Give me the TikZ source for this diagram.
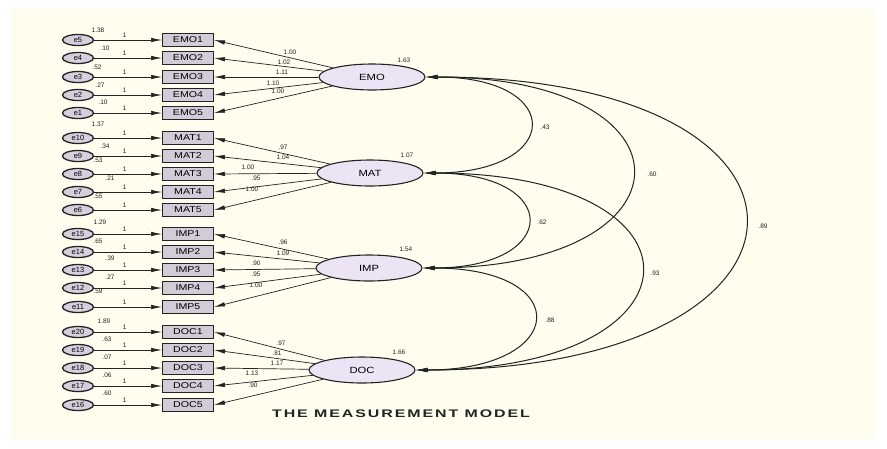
\documentclass[tikz,border=0pt]{standalone}
\usepackage{fontspec}
\setmainfont{Liberation Sans}
\usetikzlibrary{shapes.geometric,arrows.meta,calc}
\definecolor{cream}{RGB}{254,253,238}
\definecolor{lav}{RGB}{236,228,244}
\definecolor{boxfill}{RGB}{210,204,216}
\definecolor{errfill}{RGB}{214,208,222}
\definecolor{ink}{RGB}{35,35,35}
\newcommand{\wide}[1]{\scalebox{1.25}[1]{#1}}
\begin{document}
\begin{tikzpicture}[x=1pt,y=-1pt,
  lat/.style={ellipse,draw=ink,fill=lav,line width=1.1pt,minimum width=106pt,minimum height=26pt,inner sep=0pt,font=\fontsize{9}{10}\selectfont},
  obs/.style={rectangle,draw=ink,fill=boxfill,line width=1pt,minimum width=51pt,minimum height=13pt,inner sep=0pt,font=\fontsize{8.5}{9}\selectfont},
  err/.style={ellipse,draw=ink,fill=errfill,line width=1.3pt,minimum width=31pt,minimum height=11pt,inner sep=0pt,font=\fontsize{7.5}{8}\selectfont},
  lbl/.style={font=\fontsize{6.5}{7}\selectfont,inner sep=0pt,text=ink},
  arr/.style={draw=ink,line width=0.7pt,-{Latex[length=11pt,width=4.5pt]}},
  cov/.style={draw=ink,line width=1pt,{Latex[length=12pt,width=4.5pt]}-{Latex[length=12pt,width=4.5pt]}}
]
\useasboundingbox (0,0) rectangle (887,448);
\fill[white] (0,0) rectangle (887,448);
\fill[cream] (10,8) rectangle (874,440);

% latent variables
\node[lat] (EMO) at (372,77) {\wide{EMO}};
\node[lat] (MAT) at (370,173) {\wide{MAT}};
\node[lat] (IMP) at (369,268) {\wide{IMP}};
\node[lat] (DOC) at (362,370) {\wide{DOC}};
\node[lbl] (vEMO) at (404,60) {1.63};
\node[lbl] (vMAT) at (407,155) {1.07};
\node[lbl] (vIMP) at (406,249) {1.54};
\node[lbl] (vDOC) at (399,352) {1.66};

% indicators and errors
\foreach \e/\ind/\y/\v/\vx/\vy/\l/\lx/\ly/\lat in {
  e5/EMO1/40/1.38/98/30/1.00/290/52/EMO,
  e4/EMO2/58/.10/105/48/1.02/284/62/EMO,
  e3/EMO3/77/.52/97/67/1.11/282/72/EMO,
  e2/EMO4/95/.27/100/85/1.10/273/83/EMO,
  e1/EMO5/113/.10/103/102/1.00/278/91/EMO,
  e10/MAT1/138/1.37/98/124/.97/283/147/MAT,
  e9/MAT2/156/.34/105/146/1.04/283/157/MAT,
  e8/MAT3/174/.53/98/160/1.00/248/167/MAT,
  e7/MAT4/192/.21/110/178/.95/256/178/MAT,
  e6/MAT5/210/.55/98/196/1.00/252/189/MAT,
  e15/IMP1/234/1.29/100/222/.96/283/242/IMP,
  e14/IMP2/252/.65/98/241/1.09/283/253/IMP,
  e13/IMP3/270/.39/110/258/.90/256/263/IMP,
  e12/IMP4/288/.27/110/277/.95/256/274/IMP,
  e11/IMP5/307/.59/98/291/1.00/256/285/IMP,
  e20/DOC1/332/1.89/104/321/.97/281/343/DOC,
  e19/DOC2/350/.63/107/339/.81/277/353/DOC,
  e18/DOC3/368/.07/107/357/1.17/277/363/DOC,
  e17/DOC4/386/.06/107/375/1.13/252/373/DOC,
  e16/DOC5/405/.60/107/393/.90/253/385/DOC}{
  \node[err] (\e) at (78,\y) {\e};
  \node[obs] (\ind) at (188,\y) {\wide{\ind}};
  \node[lbl] (v\e) at (\vx,\vy) {\v};
  \draw[arr] (\e.east) -- (\ind.west) node[lbl,pos=0.45,above=2pt] (one\e) {1};
  \draw[arr] (\lat) -- (\ind.east);
  \node[lbl] (l\ind) at (\lx,\ly) {\l};
}

% covariances
\draw[cov] (EMO.east) .. controls ($(EMO.east)+(140,0)$) and ($(MAT.east)+(140,0)$) .. (MAT.east);
\draw[cov] (EMO.east) .. controls ($(EMO.east)+(277,0)$) and ($(IMP.east)+(277,0)$) .. (IMP.east);
\draw[cov] (EMO.east) .. controls ($(EMO.east)+(432,0)$) and ($(DOC.east)+(432,0)$) .. (DOC.east);
\draw[cov] (MAT.east) .. controls ($(MAT.east)+(139,0)$) and ($(IMP.east)+(139,0)$) .. (IMP.east);
\draw[cov] (MAT.east) .. controls ($(MAT.east)+(295,0)$) and ($(DOC.east)+(295,0)$) .. (DOC.east);
\draw[cov] (IMP.east) .. controls ($(IMP.east)+(153,0)$) and ($(DOC.east)+(153,0)$) .. (DOC.east);
\node[lbl] (cEM) at (545,127) {.43};
\node[lbl] (cEI) at (652,174) {.60};
\node[lbl] (cED) at (763,226) {.89};
\node[lbl] (cMI) at (542,222) {.62};
\node[lbl] (cMD) at (655,273) {.93};
\node[lbl] (cID) at (550,320) {.88};

\node[inner sep=0pt,font=\fontsize{11}{12}\selectfont\bfseries\addfontfeature{LetterSpace=12},text=ink] (title) at (401,414) {\scalebox{1.45}[1]{THE MEASUREMENT MODEL}};
\end{tikzpicture}
\end{document}
